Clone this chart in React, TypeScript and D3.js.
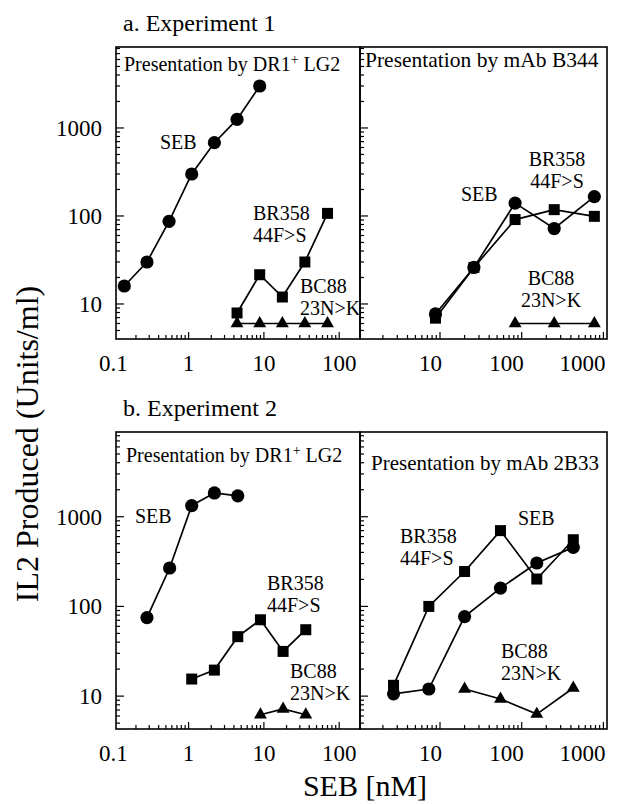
import React from "react";
import * as d3 from "d3";

const FONT = '"Liberation Serif"';

// ---- Data (SEB nM vs IL2 Units/ml) ----
// a. Experiment 1 — Presentation by DR1+ LG2
const e1LgSebX = [0.14, 0.28, 0.55, 1.1, 2.2, 4.4, 8.8];
const e1LgSebY = [16, 30, 87, 300, 680, 1250, 3000];
const e1LgBrX = [4.4, 8.8, 17.6, 35, 70];
const e1LgBrY = [7.9, 21.5, 12, 30, 107];
const e1LgBcX = [4.4, 8.8, 17.6, 35, 70];
const e1LgBcY = [6, 6, 6, 6, 6];
// a. Experiment 1 — Presentation by mAb B344
const e1MabSebX = [8.8, 26, 83, 250, 775];
const e1MabSebY = [7.7, 26, 140, 72, 166];
const e1MabBrX = [8.8, 26, 83, 250, 775];
const e1MabBrY = [6.9, 26, 91, 118, 99];
const e1MabBcX = [83, 250, 775];
const e1MabBcY = [6, 6, 6];
// b. Experiment 2 — Presentation by DR1+ LG2
const e2LgSebX = [0.28, 0.56, 1.1, 2.2, 4.5];
const e2LgSebY = [75, 268, 1330, 1840, 1710];
const e2LgBrX = [1.1, 2.2, 4.5, 9, 18, 36];
const e2LgBrY = [15.5, 19.5, 46, 71, 31.5, 55];
const e2LgBcX = [9, 18, 36];
const e2LgBcY = [6.2, 7.2, 6.2];
// b. Experiment 2 — Presentation by mAb 2B33
const e2MabSebX = [2.7, 7.3, 20, 55, 153, 428];
const e2MabSebY = [10.6, 12, 77, 160, 305, 455];
const e2MabBrX = [2.7, 7.3, 20, 55, 153, 428];
const e2MabBrY = [13.2, 100, 245, 700, 202, 554];
const e2MabBcX = [20, 55, 153, 428];
const e2MabBcY = [12, 9.3, 6.3, 12.3];

// tick labels
const xTicksLeft = [0.1, 1, 10, 100];
const xTicksRight = [10, 100, 1000];
const yTicks = [10, 100, 1000];

// ---- Layout ----
const W = 639, H = 804;
const LX0 = 116, MID = 360, RX1 = 607;
const A_TOP = 47, A_BOT = 339, B_TOP = 432, B_BOT = 729;

const xL = d3.scaleLog().domain([0.1086, 189]).range([LX0, MID]);
const xR = d3.scaleLog().domain([1.049, 1107]).range([MID, RX1]);
const yA = d3.scaleLog().domain([4, 8318]).range([A_BOT, A_TOP]);
const yB = d3.scaleLog().domain([4.3, 8800]).range([B_BOT, B_TOP]);

type Series = { xs: number[]; ys: number[]; shape: "circle" | "square" | "triangle" };
type Note = { lines: string[]; x: number; y: number; anchor?: string };

const isMajor = (v: number) => Math.abs(Math.log10(v) - Math.round(Math.log10(v))) < 1e-6;

function Marker({ shape, cx, cy }: { shape: string; cx: number; cy: number }) {
  if (shape === "circle") return <circle cx={cx} cy={cy} r={6.6} fill="#000" />;
  if (shape === "square") return <rect x={cx - 5.5} y={cy - 5.5} width={11} height={11} fill="#000" />;
  const p = d3.symbol().type(d3.symbolTriangle).size(72)()!;
  return <path d={p} transform={`translate(${cx},${cy})`} fill="#000" />;
}

const txt = (size: number) => ({ fontFamily: FONT, fontSize: size + "px" });

function Panel({
  x, y, series, notes, title, titleSize, leftAxisLabels, xLabels, xLabelMode, titlePos,
}: {
  x: any; y: any; series: Series[]; notes: Note[]; title: React.ReactNode; titleSize: number;
  leftAxisLabels: boolean; xLabels: number[]; xLabelMode: "middle" | "end"; titlePos: [number, number];
}) {
  const [x0, x1] = x.range();
  const [y0, y1] = y.range(); // y0 bottom, y1 top
  const xt = x.ticks();
  const yt = y.ticks();
  return (
    <g>
      <rect x={x0} y={y1} width={x1 - x0} height={y0 - y1} fill="none" stroke="#000" strokeWidth={1.6} />
      {xt.filter((v: number) => x(v) > x0 + 1 && x(v) < x1 - 1).map((v: number, i: number) => (
        <line key={"xt" + i} x1={x(v)} x2={x(v)} y1={y0} y2={y0 - (isMajor(v) ? 7 : 4)} stroke="#000" strokeWidth={1.2} />
      ))}
      {yt.filter((v: number) => y(v) > y1 + 1 && y(v) < y0 - 1).map((v: number, i: number) => (
        <line key={"yt" + i} x1={x0} x2={x0 + (isMajor(v) ? 8 : 4)} y1={y(v)} y2={y(v)} stroke="#000" strokeWidth={1.2} />
      ))}
      {leftAxisLabels && yTicks.map((v) => (
        <text key={"yl" + v} x={x0 - 14} y={y(v)} dy="0.35em" textAnchor="end" style={txt(23)}>{v}</text>
      ))}
      {xLabels.map((v) => (
        <text key={"xl" + v} x={xLabelMode === "middle" ? x(v) : x(v) + 2} y={y0 + 32}
          textAnchor={xLabelMode} style={txt(23)}>{String(v)}</text>
      ))}
      {series.map((s, i) => {
        const pts = s.xs.map((xv, j) => [x(xv), y(s.ys[j])] as [number, number]);
        const d = d3.line()(pts)!;
        return (
          <g key={"s" + i}>
            <path d={d} fill="none" stroke="#000" strokeWidth={1.7} />
            {pts.map((p, j) => <Marker key={j} shape={s.shape} cx={p[0]} cy={p[1]} />)}
          </g>
        );
      })}
      <text x={titlePos[0]} y={titlePos[1]} style={txt(titleSize)}>{title}</text>
      {notes.map((n, i) => (
        <text key={"n" + i} x={n.x} y={n.y} style={txt(20)} textAnchor={n.anchor || "start"}>
          {n.lines.map((l, j) => <tspan key={j} x={n.x} dy={j === 0 ? 0 : 21.5}>{l}</tspan>)}
        </text>
      ))}
    </g>
  );
}

const dr1 = (
  <>
    Presentation by DR1<tspan dy={-7} style={{ fontSize: "14px" }}>+</tspan><tspan dy={7}> LG2</tspan>
  </>
);

export default function App() {
  return (
    <svg width={W} height={H} viewBox={`0 0 ${W} ${H}`}
      style={{ position: "absolute", left: 0, top: 0, background: "#fff" }}>
      <rect width={W} height={H} fill="#fff" />
      <text x={123} y={31} style={txt(24)}>a. Experiment 1</text>
      <text x={123} y={416} style={txt(24)}>b. Experiment 2</text>

      <Panel x={xL} y={yA} leftAxisLabels xLabels={xTicksLeft} xLabelMode="middle"
        title={dr1} titleSize={20} titlePos={[124, 71]}
        series={[
          { xs: e1LgSebX, ys: e1LgSebY, shape: "circle" },
          { xs: e1LgBrX, ys: e1LgBrY, shape: "square" },
          { xs: e1LgBcX, ys: e1LgBcY, shape: "triangle" },
        ]}
        notes={[
          { lines: ["SEB"], x: 160, y: 149 },
          { lines: ["BR358", "44F>S"], x: 253, y: 220 },
          { lines: ["BC88", "23N>K"], x: 300, y: 293 },
        ]} />
      <Panel x={xR} y={yA} leftAxisLabels={false} xLabels={xTicksRight} xLabelMode="end"
        title="Presentation by mAb B344" titleSize={21.5} titlePos={[365, 67]}
        series={[
          { xs: e1MabSebX, ys: e1MabSebY, shape: "circle" },
          { xs: e1MabBrX, ys: e1MabBrY, shape: "square" },
          { xs: e1MabBcX, ys: e1MabBcY, shape: "triangle" },
        ]}
        notes={[
          { lines: ["SEB"], x: 461, y: 201 },
          { lines: ["BR358", "44F>S"], x: 557, y: 166, anchor: "middle" },
          { lines: ["BC88", "23N>K"], x: 551, y: 285, anchor: "middle" },
        ]} />
      <Panel x={xL} y={yB} leftAxisLabels xLabels={xTicksLeft} xLabelMode="middle"
        title={dr1} titleSize={20} titlePos={[126, 462]}
        series={[
          { xs: e2LgSebX, ys: e2LgSebY, shape: "circle" },
          { xs: e2LgBrX, ys: e2LgBrY, shape: "square" },
          { xs: e2LgBcX, ys: e2LgBcY, shape: "triangle" },
        ]}
        notes={[
          { lines: ["SEB"], x: 135, y: 523 },
          { lines: ["BR358", "44F>S"], x: 267, y: 590 },
          { lines: ["BC88", "23N>K"], x: 290, y: 678 },
        ]} />
      <Panel x={xR} y={yB} leftAxisLabels={false} xLabels={xTicksRight} xLabelMode="end"
        title="Presentation by mAb 2B33" titleSize={21} titlePos={[371, 470]}
        series={[
          { xs: e2MabSebX, ys: e2MabSebY, shape: "circle" },
          { xs: e2MabBrX, ys: e2MabBrY, shape: "square" },
          { xs: e2MabBcX, ys: e2MabBcY, shape: "triangle" },
        ]}
        notes={[
          { lines: ["BR358", "44F>S"], x: 400, y: 543 },
          { lines: ["SEB"], x: 518, y: 525 },
          { lines: ["BC88", "23N>K"], x: 501, y: 658 },
        ]} />

      <text transform="translate(38,444) rotate(-90)" textAnchor="middle" style={txt(32)}>
        IL2 Produced (Units/ml)
      </text>
      <text x={365} y={796} textAnchor="middle" style={txt(30)}>SEB [nM]</text>
    </svg>
  );
}
